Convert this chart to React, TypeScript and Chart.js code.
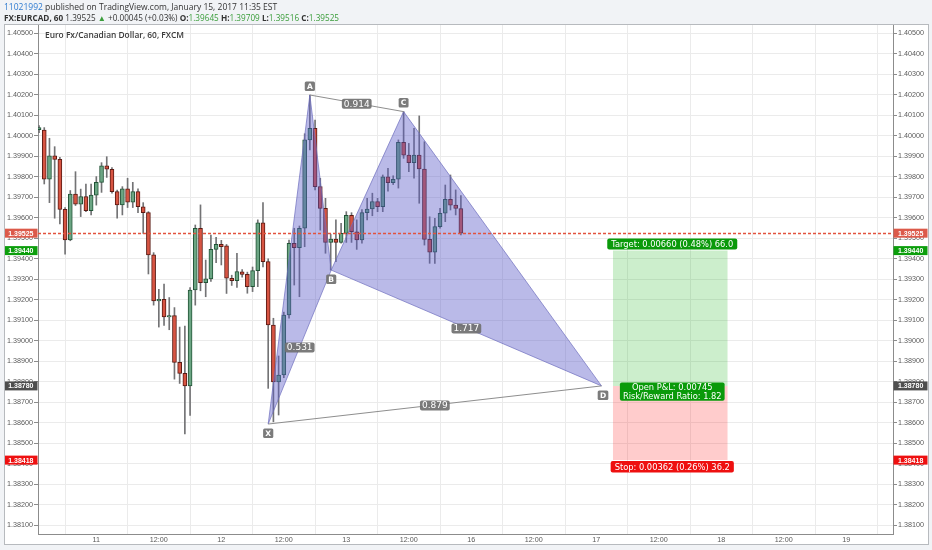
import React, { useEffect, useRef } from 'react';
import { Chart, registerables } from 'chart.js';

Chart.register(...registerables);

// ---- candle data (1h bars; hour index 0 = Jan 11 00:00, weekend removed) ----
const hours = [
  -11, -10, -9, -8, -7, -6, -5, -4, -3, -2, -1, 0, 1, 2, 3, 4, 5, 6, 7, 8, 9, 10,
  11, 12, 13, 14, 15, 16, 17, 18, 19, 20, 21, 22, 23, 24, 25, 26, 27, 28, 29, 30,
  31, 32, 33, 34, 35, 36, 37, 38, 39, 40, 41, 42, 43, 44, 45, 46, 47, 48, 49, 50,
  51, 52, 53, 54, 55, 56, 57, 58, 59, 60, 61, 62, 63, 64, 65, 66, 67, 68, 69, 70,
];
const opens = [
  1.4003, 1.40028, 1.39788, 1.39902, 1.39885, 1.39641, 1.39492, 1.39716, 1.39667, 1.39703, 1.39635,
  1.39711, 1.39773, 1.39853, 1.39837, 1.39728, 1.39663, 1.39741, 1.39676, 1.39728, 1.39654, 1.39625,
  1.39419, 1.39195, 1.39202, 1.39116, 1.39123, 1.38895, 1.38841, 1.3878, 1.39248, 1.39549, 1.39284,
  1.39302, 1.39446, 1.3947, 1.39463, 1.39305, 1.39293, 1.39336, 1.39324, 1.39264, 1.39342, 1.39576,
  1.39386, 1.39077, 1.388, 1.38833, 1.39126, 1.39476, 1.39454, 1.39549, 1.3998, 1.40037, 1.39752,
  1.39646, 1.3948, 1.39496, 1.3948, 1.39524, 1.39612, 1.39532, 1.39492, 1.39625, 1.39643, 1.39679,
  1.39654, 1.398, 1.39771, 1.39788, 1.39968, 1.39906, 1.39869, 1.39906, 1.39838, 1.39495, 1.39432,
  1.39557, 1.39622, 1.3969, 1.39662, 1.39645,
];
const highs = [
  1.4005, 1.4004, 1.39988, 1.39947, 1.39895, 1.3965, 1.39733, 1.39825, 1.3974, 1.39765, 1.39765,
  1.39801, 1.39869, 1.39898, 1.39845, 1.39735, 1.39752, 1.39793, 1.39773, 1.39741, 1.39674, 1.3963,
  1.3943, 1.39251, 1.39277, 1.39211, 1.39162, 1.39067, 1.39072, 1.3926, 1.39565, 1.39663, 1.39394,
  1.39516, 1.39505, 1.3949, 1.3947, 1.3932, 1.39427, 1.39347, 1.39335, 1.3936, 1.3959, 1.39674,
  1.394, 1.3911, 1.38926, 1.3914, 1.39491, 1.39549, 1.3956, 1.4001, 1.40199, 1.40077, 1.39793,
  1.39695, 1.3952, 1.3959, 1.39573, 1.3963, 1.39625, 1.3959, 1.3964, 1.39695, 1.3972, 1.39695,
  1.39809, 1.39841, 1.39805, 1.3998, 1.40118, 1.39963, 1.40037, 1.40097, 1.39971, 1.39605, 1.39598,
  1.39646, 1.3976, 1.39809, 1.39736, 1.39709,
];
const lows = [
  1.40015, 1.39765, 1.39674, 1.39598, 1.3957, 1.39422, 1.39488, 1.3966, 1.39606, 1.3963, 1.39614,
  1.39662, 1.39724, 1.39797, 1.3972, 1.39598, 1.39614, 1.3965, 1.3965, 1.39625, 1.39524, 1.39326,
  1.39174, 1.39067, 1.39075, 1.39054, 1.38813, 1.38792, 1.38546, 1.38636, 1.39174, 1.39244, 1.39215,
  1.3929, 1.39381, 1.3937, 1.39231, 1.3927, 1.3926, 1.3931, 1.39232, 1.3924, 1.39264, 1.3936,
  1.38768, 1.38605, 1.38638, 1.3882, 1.3911, 1.39272, 1.39215, 1.39459, 1.39931, 1.39736, 1.3954,
  1.39427, 1.39345, 1.39386, 1.39476, 1.3948, 1.3948, 1.39446, 1.39476, 1.3959, 1.3961, 1.3963,
  1.3963, 1.3973, 1.39762, 1.39745, 1.3989, 1.39825, 1.39793, 1.39671, 1.39467, 1.39378, 1.39378,
  1.39549, 1.39581, 1.39638, 1.39614, 1.39516,
];
const closes = [
  1.4004, 1.39788, 1.39902, 1.39885, 1.39641, 1.39492, 1.39716, 1.39667, 1.39703, 1.39635, 1.39711,
  1.39773, 1.39853, 1.39837, 1.39728, 1.39663, 1.39741, 1.39676, 1.39728, 1.39654, 1.39625, 1.39419,
  1.39195, 1.39202, 1.39116, 1.39123, 1.38895, 1.38841, 1.3878, 1.39248, 1.39549, 1.39284, 1.39302,
  1.39446, 1.3947, 1.39459, 1.39305, 1.39293, 1.39338, 1.39324, 1.39264, 1.39342, 1.39576, 1.39386,
  1.39077, 1.388, 1.38833, 1.39126, 1.39476, 1.39454, 1.39549, 1.3998, 1.40037, 1.39752, 1.39646,
  1.3948, 1.39496, 1.3948, 1.39524, 1.39612, 1.39532, 1.39492, 1.39625, 1.39643, 1.39679, 1.39654,
  1.398, 1.39771, 1.39788, 1.39968, 1.39906, 1.39869, 1.39906, 1.39838, 1.39495, 1.39432, 1.39557,
  1.39622, 1.3969, 1.39662, 1.39646, 1.39525,
];

// ---- axes ----
const xMin = -11.2;
const xMax = 152.97;
const yMin = 1.380576;
const yMax = 1.405405;
const xTickValues = [0, 12, 24, 36, 48, 60, 72, 84, 96, 108, 120, 132, 144];
const xTickLabels = ['11', '12:00', '12', '12:00', '13', '12:00', '16', '12:00', '17', '12:00', '18', '12:00', '19'];
const yTickValues = [
  1.381, 1.382, 1.383, 1.384, 1.385, 1.386, 1.387, 1.388, 1.389, 1.39, 1.391, 1.392, 1.393,
  1.394, 1.395, 1.396, 1.397, 1.398, 1.399, 1.4, 1.401, 1.402, 1.403, 1.404, 1.405,
];

// ---- XABCD pattern ----
const patternNames = ['X', 'A', 'B', 'C', 'D'];
const patternHours = [33, 41, 45.1, 59, 97];
const patternPrices = [1.38594, 1.40199, 1.39345, 1.40118, 1.3878];
const ratioLabels = ['0.531', '0.914', '1.717', '0.879'];
const ratioSegments = [[0, 2], [1, 3], [2, 4], [0, 4]];

// ---- long position ----
const positionHours = [99.2, 121.2];
const entryPrice = 1.3878;
const targetPrice = 1.3944;
const stopPrice = 1.38418;
const lastPrice = 1.39525;
const targetText = 'Target: 0.00660 (0.48%) 66.0';
const pnlLines = ['Open P&L: 0.00745', 'Risk/Reward Ratio: 1.82'];
const stopText = 'Stop: 0.00362 (0.26%) 36.2';

const axisMarkPrices = [lastPrice, targetPrice, entryPrice, stopPrice];
const axisMarkColors = ['#dc5a4a', '#0c9e0c', '#4e4e4e', '#ee1010'];

const UP = '#6ba583';
const DOWN = '#d75442';
const UP_BORDER = '#225437';
const DOWN_BORDER = '#5b1a13';
const WICK = '#737375';
const AXIS_FONT = '"Liberation Sans", Arial, sans-serif';
const LABEL_FONT = '"DejaVu Sans", Verdana, sans-serif';

function rr(ctx: CanvasRenderingContext2D, x: number, y: number, w: number, h: number, r: number) {
  ctx.beginPath();
  ctx.moveTo(x + r, y);
  ctx.lineTo(x + w - r, y);
  ctx.quadraticCurveTo(x + w, y, x + w, y + r);
  ctx.lineTo(x + w, y + h - r);
  ctx.quadraticCurveTo(x + w, y + h, x + w - r, y + h);
  ctx.lineTo(x + r, y + h);
  ctx.quadraticCurveTo(x, y + h, x, y + h - r);
  ctx.lineTo(x, y + r);
  ctx.quadraticCurveTo(x, y, x + r, y);
  ctx.closePath();
}

function boxText(
  ctx: CanvasRenderingContext2D,
  lines: string[],
  cx: number,
  top: number,
  bg: string,
  font: string,
  lineH: number,
  padX: number,
  padY: number,
  radius: number,
) {
  ctx.font = font;
  const w = Math.max(...lines.map((l) => ctx.measureText(l).width));
  const bw = w + padX * 2;
  const bh = lines.length * lineH + padY * 2;
  ctx.fillStyle = bg;
  rr(ctx, cx - bw / 2, top, bw, bh, radius);
  ctx.fill();
  ctx.fillStyle = '#ffffff';
  ctx.textAlign = 'center';
  ctx.textBaseline = 'middle';
  lines.forEach((l, i) => ctx.fillText(l, cx, top + padY + lineH * i + lineH / 2 + 0.5));
}

const annotPlugin = {
  id: 'annot',
  beforeDraw(chart: any) {
    const { ctx, width, height } = chart;
    ctx.save();
    ctx.fillStyle = '#f1f3f6';
    ctx.fillRect(0, 0, width, height);
    ctx.fillStyle = '#ffffff';
    ctx.fillRect(4, 24, 925, 521);
    ctx.strokeStyle = '#b7babe';
    ctx.lineWidth = 1;
    ctx.strokeRect(4.5, 24.5, 924, 520);
    ctx.restore();
  },
  afterDatasetsDraw(chart: any) {
    const { ctx, chartArea } = chart;
    const xs = chart.scales.x;
    const ys = chart.scales.y;
    ctx.save();
    ctx.beginPath();
    ctx.rect(chartArea.left, chartArea.top, chartArea.right - chartArea.left, chartArea.bottom - chartArea.top);
    ctx.clip();

    // last price dashed line
    const ly = Math.round(ys.getPixelForValue(lastPrice)) + 0.5;
    ctx.strokeStyle = '#e2533f';
    ctx.lineWidth = 1.3;
    ctx.setLineDash([3, 2]);
    ctx.beginPath();
    ctx.moveTo(chartArea.left, ly);
    ctx.lineTo(chartArea.right, ly);
    ctx.stroke();
    ctx.setLineDash([]);

    // ratio labels at segment midpoints
    ratioSegments.forEach(([a, b], i) => {
      const mx = (xs.getPixelForValue(patternHours[a]) + xs.getPixelForValue(patternHours[b])) / 2;
      const my = (ys.getPixelForValue(patternPrices[a]) + ys.getPixelForValue(patternPrices[b])) / 2;
      boxText(ctx, [ratioLabels[i]], mx, my - 4.5, 'rgba(112,112,112,0.92)', `9px ${LABEL_FONT}`, 10, 2, 0, 2);
    });

    // pattern point letters
    patternNames.forEach((n, i) => {
      const px = xs.getPixelForValue(patternHours[i]);
      const py = ys.getPixelForValue(patternPrices[i]);
      const above = i === 1 || i === 3;
      const top = above ? py - 13.5 : py + 4.5;
      boxText(ctx, [n], px + (i === 4 ? 1.5 : 0), top, 'rgba(112,112,112,0.92)', `bold 7.5px ${LABEL_FONT}`, 9.5, 2.2, 0, 1.5);
    });

    // position labels
    const pcx = (xs.getPixelForValue(positionHours[0]) + xs.getPixelForValue(positionHours[1])) / 2 + 2;
    boxText(ctx, [targetText], pcx, ys.getPixelForValue(targetPrice) - 12, '#0a9a0a', `8.3px ${LABEL_FONT}`, 11, 4, 0, 2);
    boxText(ctx, pnlLines, pcx, ys.getPixelForValue(entryPrice) - 3.5, '#0a9a0a', `8.3px ${LABEL_FONT}`, 8.6, 3, 0.6, 2);
    boxText(ctx, [stopText], pcx, ys.getPixelForValue(stopPrice) + 1, '#ee1010', `8.3px ${LABEL_FONT}`, 11.5, 4, 0, 2);
    ctx.restore();
  },
  afterDraw(chart: any) {
    const { ctx } = chart;
    const ys = chart.scales.y;
    ctx.save();
    ctx.font = `bold 7px ${AXIS_FONT}`;
    ctx.textBaseline = 'middle';
    axisMarkPrices.forEach((p, i) => {
      const py = ys.getPixelForValue(p);
      ctx.fillStyle = axisMarkColors[i];
      ctx.fillRect(5, py - 4.5, 32.5, 9);
      ctx.fillRect(893.5, py - 4.5, 34, 9);
      ctx.fillStyle = '#ffffff';
      const t = p.toFixed(5);
      ctx.textAlign = 'right';
      ctx.fillText(t, 33.5, py + 0.5);
      ctx.textAlign = 'left';
      ctx.fillText(t, 898, py + 0.5);
    });
    ctx.restore();
  },
};

export default function App() {
  const ref = useRef<HTMLCanvasElement>(null);

  useEffect(() => {
    if (!ref.current) return;
    const isUp = hours.map((_, i) => closes[i] >= opens[i]);
    const tri = (idx: number[]) => idx.map((k) => ({ x: patternHours[k], y: patternPrices[k] }));
    const rect = (p1: number, p2: number) => [
      { x: positionHours[0], y: p1 },
      { x: positionHours[1], y: p1 },
      { x: positionHours[1], y: p2 },
      { x: positionHours[0], y: p2 },
      { x: positionHours[0], y: p1 },
    ];
    const lineBase = {
      type: 'line' as const,
      pointRadius: 0,
      pointHoverRadius: 0,
      pointHitRadius: 0,
      tension: 0,
    };

    const tickFont = { family: AXIS_FONT, size: 7.2 };
    const yCommon = {
      type: 'linear' as const,
      min: yMin,
      max: yMax,
      afterBuildTicks: (s: any) => {
        s.ticks = yTickValues.map((v) => ({ value: v }));
      },
      ticks: {
        font: tickFont,
        color: '#5a5a5a',
        padding: 1,
        callback: (v: any) => Number(v).toFixed(5),
      },
      border: { color: '#8c8c8c' },
    };

    const chart = new Chart(ref.current, {
      type: 'bar',
      data: {
        datasets: [
          {
            ...lineBase,
            label: 'profit',
            data: rect(targetPrice, entryPrice),
            fill: 'shape',
            backgroundColor: 'rgba(0,170,0,0.2)',
            borderColor: 'transparent',
            borderWidth: 0,
            order: 20,
          },
          {
            ...lineBase,
            label: 'loss',
            data: rect(entryPrice, stopPrice),
            fill: 'shape',
            backgroundColor: 'rgba(255,0,0,0.2)',
            borderColor: 'transparent',
            borderWidth: 0,
            order: 19,
          },
          {
            type: 'bar',
            label: 'wicks',
            data: hours.map((h, i) => ({ x: h, y: [lows[i], highs[i]] })),
            backgroundColor: WICK,
            borderWidth: 0,
            barThickness: 1,
            grouped: false,
            order: 10,
          } as any,
          {
            type: 'bar',
            label: 'bodies',
            data: hours.map((h, i) => ({ x: h, y: [opens[i], closes[i]] })),
            backgroundColor: isUp.map((u) => (u ? UP : DOWN)),
            borderColor: isUp.map((u) => (u ? UP_BORDER : DOWN_BORDER)),
            borderWidth: 1,
            borderSkipped: false,
            barThickness: 4,
            minBarLength: 1,
            grouped: false,
            order: 9,
          } as any,
          {
            ...lineBase,
            label: 'XAB',
            data: tri([0, 1, 2, 0]),
            fill: 'shape',
            backgroundColor: 'rgba(90,90,200,0.42)',
            borderColor: 'rgba(110,110,190,0.7)',
            borderWidth: 1,
            order: 5,
          },
          {
            ...lineBase,
            label: 'BCD',
            data: tri([2, 3, 4, 2]),
            fill: 'shape',
            backgroundColor: 'rgba(90,90,200,0.42)',
            borderColor: 'rgba(110,110,190,0.7)',
            borderWidth: 1,
            order: 4,
          },
          {
            ...lineBase,
            label: 'AC',
            data: tri([1, 3]),
            fill: false,
            borderColor: '#8e8e8e',
            borderWidth: 1,
            order: 3,
          },
          {
            ...lineBase,
            label: 'XD',
            data: tri([0, 4]),
            fill: false,
            borderColor: '#8e8e8e',
            borderWidth: 1,
            order: 2,
          },
        ] as any,
      },
      options: {
        responsive: false,
        animation: false,
        events: [],
        layout: { padding: { left: 4, right: 0, top: 25, bottom: 5 } },
        plugins: {
          legend: { display: false },
          tooltip: { enabled: false },
          title: { display: false },
        },
        scales: {
          x: {
            type: 'linear',
            min: xMin,
            max: xMax,
            offset: false,
            afterBuildTicks: (s: any) => {
              s.ticks = xTickValues.map((v) => ({ value: v }));
            },
            afterFit: (s: any) => {
              s.height = 11;
            },
            grid: { color: '#ebebeb', drawTicks: false },
            border: { color: '#8c8c8c' },
            ticks: {
              font: tickFont,
              color: '#5a5a5a',
              padding: 2,
              maxRotation: 0,
              autoSkip: false,
              callback: (_v: any, i: number) => xTickLabels[i],
            },
          },
          y: {
            ...yCommon,
            position: 'left',
            afterFit: (s: any) => {
              s.width = 34;
            },
            grid: { color: '#ebebeb', tickColor: '#8c8c8c', tickLength: 4 },
          },
          y2: {
            ...yCommon,
            position: 'right',
            afterFit: (s: any) => {
              s.width = 39;
            },
            grid: { drawOnChartArea: false, tickColor: '#8c8c8c', tickLength: 4 },
          },
        },
      } as any,
      plugins: [annotPlugin],
    });
    return () => chart.destroy();
  }, []);

  const green = '#3a9d3a';
  const hdr: React.CSSProperties = {
    position: 'absolute',
    left: 4,
    whiteSpace: 'nowrap',
    fontFamily: '"Open Sans", sans-serif',
    fontSize: 8.5,
    lineHeight: '11px',
    color: '#333333',
  };
  return (
    <div
      style={{
        position: 'fixed',
        left: 0,
        top: 0,
        width: 932,
        height: 550,
        overflow: 'hidden',
        background: '#f1f3f6',
      }}
    >
      <canvas ref={ref} width={932} height={550} style={{ position: 'absolute', left: 0, top: 0 }} />
      <div style={{ ...hdr, top: 1 }}>
        <span style={{ color: '#2f7bd0' }}>11021992</span> published on TradingView.com, January 15, 2017 11:35 EST
      </div>
      <div style={{ ...hdr, top: 12, fontSize: 8.2 }}>
        <b>FX:EURCAD, 60</b> 1.39525 <span style={{ color: green }}>▲</span> +0.00045 (+0.03%){' '}
        <b>O:</b>
        <span style={{ color: green }}>1.39645</span> <b>H:</b>
        <span style={{ color: green }}>1.39709</span> <b>L:</b>
        <span style={{ color: green }}>1.39516</span> <b>C:</b>
        <span style={{ color: green }}>1.39525</span>
      </div>
      <div
        style={{
          position: 'absolute',
          left: 45,
          top: 30,
          whiteSpace: 'nowrap',
          fontFamily: '"Open Sans", sans-serif',
          fontSize: 8.4,
          fontWeight: 600,
          lineHeight: '10px',
          color: '#3a3a3a',
        }}
      >
        Euro Fx/Canadian Dollar, 60, FXCM
      </div>
    </div>
  );
}
